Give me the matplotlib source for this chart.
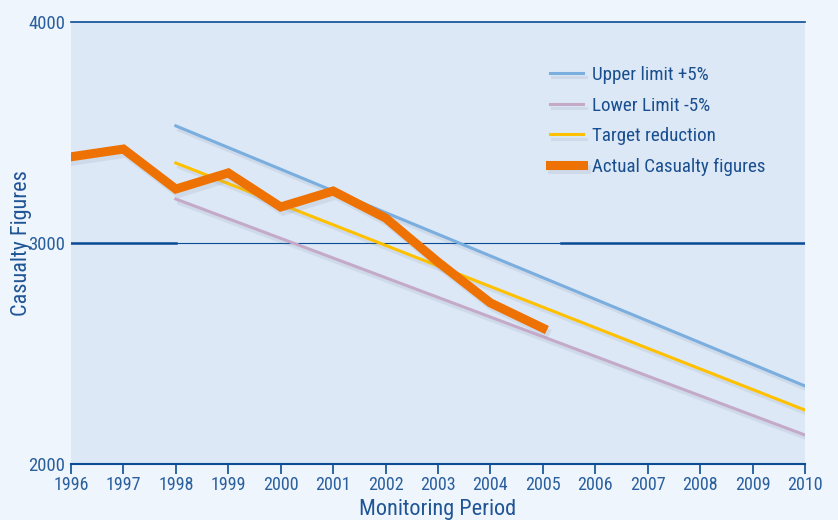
import matplotlib
matplotlib.use("Agg")
import matplotlib.pyplot as plt
import matplotlib.patheffects as pe

# values
years_actual = [1996, 1997, 1998, 1999, 2000, 2001, 2002, 2003, 2004, 2005]
actual = [3390, 3425, 3244, 3317, 3163, 3235, 3113, 2914, 2729, 2615]

years_trend = [1998, 2010]
upper = [3530, 2353]
target = [3362, 2244]
lower = [3199, 2131]

xticks = list(range(1996, 2011))
yticks = [2000, 3000, 4000]

navy = "#0b4c96"
txt = "#2a5f9e"
plt.rcParams["font.family"] = ["Liberation Sans Narrow", "Roboto Condensed", "Liberation Sans", "DejaVu Sans"]

fig = plt.figure(figsize=(8.38, 5.2), dpi=100, facecolor="#eff5fc")
ax = fig.add_axes([0.0847, 0.1077, 0.8759, 0.85])
ax.set_facecolor("#dce8f5")

shadow = [pe.SimpleLineShadow(offset=(2, -3), shadow_color="#8090a8", alpha=0.15), pe.Normal()]

# grid lines
ax.axhline(3000, color=navy, lw=0.8, zorder=1)
ax.axhline(3000, xmax=2 / 14, color=navy, lw=1.8, zorder=1)
ax.axhline(3000, xmin=9.35 / 14, color=navy, lw=1.8, zorder=1)
ax.axhline(4000, color=navy, lw=1.2, zorder=1, clip_on=False)

ax.plot(years_trend, upper, color="#7aaedf", lw=2.2, label="Upper limit +5%", path_effects=shadow, zorder=3)
ax.plot(years_trend, lower, color="#c4a9c8", lw=2.2, label="Lower Limit -5%", path_effects=shadow, zorder=3)
ax.plot(years_trend, target, color="#ffc000", lw=2.2, label="Target reduction", path_effects=shadow, zorder=3)
ax.plot(years_actual, actual, color="#ee7203", lw=6.5, label="Actual Casualty figures",
        solid_joinstyle="miter", path_effects=shadow, zorder=4)

ax.set_xlim(1996, 2010)
ax.set_ylim(2000, 4000)
ax.set_xticks(xticks)
ax.set_yticks(yticks)
ax.tick_params(axis="x", direction="out", length=7, width=1.2, color=navy, labelcolor=txt,
               labelsize=13, pad=2)
ax.tick_params(axis="y", length=0, labelcolor=txt, labelsize=13.5, pad=4)

for s in ["top", "right", "left"]:
    ax.spines[s].set_visible(False)
ax.spines["bottom"].set_color(navy)
ax.spines["bottom"].set_linewidth(1.5)

fig.text(438 / 838, 1 - 510 / 520, "Monitoring Period", fontsize=16, color="#1f5595",
         ha="center", va="center")
fig.text(21 / 838, 1 - 243 / 520, "Casualty Figures", fontsize=16, color="#1f5595",
         ha="center", va="center", rotation=90)

leg = ax.legend(loc="upper left", bbox_to_anchor=(0.639, 0.922), frameon=False, fontsize=13.7,
                handlelength=1.75, handletextpad=0.5, labelspacing=0.66, borderpad=0)
for t in leg.get_texts():
    t.set_color("#1a4f8f")

fig.savefig("out.png", dpi=100, facecolor=fig.get_facecolor())
